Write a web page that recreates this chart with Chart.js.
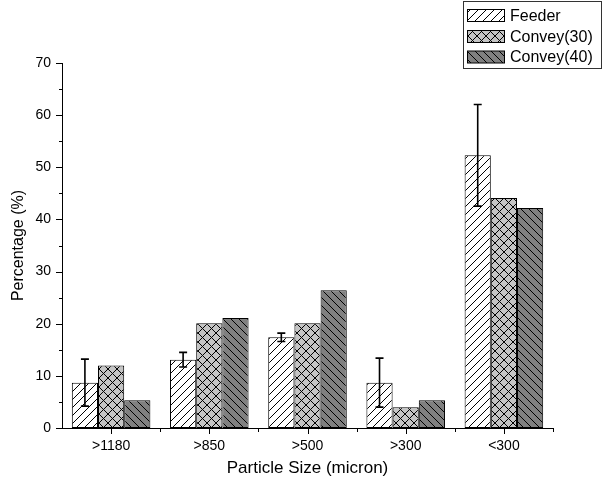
<!DOCTYPE html>
<html>
<head>
<meta charset="utf-8">
<script src="https://cdn.jsdelivr.net/npm/chart.js@4"></script>
<style>
html,body{margin:0;padding:0;background:#fff;}
#c{display:block;}
</style>
</head>
<body>
<canvas id="c" width="604" height="486"></canvas>
<script>
const categories = ['>1180', '>850', '>500', '>300', '<300'];
const feeder = [8.7, 13.1, 17.4, 8.7, 52.3];
const feederErr = [4.5, 1.4, 0.8, 4.7, 9.75];
const convey30 = [12.0, 20.1, 20.1, 4.0, 44.1];
const convey40 = [5.3, 21.1, 26.4, 5.3, 42.2];
const seriesLabels = ['Feeder', 'Convey(30)', 'Convey(40)'];
const yTicks = [0, 10, 20, 30, 40, 50, 60, 70];

const FONT = '"Liberation Sans", Arial, sans-serif';

function makePattern(bg, type, size) {
  const c = document.createElement('canvas');
  c.width = size; c.height = size;
  const g = c.getContext('2d');
  g.fillStyle = bg; g.fillRect(0, 0, size, size);
  g.strokeStyle = '#000'; g.lineWidth = 1;
  g.beginPath();
  if (type.indexOf('/') >= 0) {
    g.moveTo(-1, size + 1); g.lineTo(size + 1, -1);
    g.moveTo(-2, 2); g.lineTo(2, -2);
    g.moveTo(size - 2, size + 2); g.lineTo(size + 2, size - 2);
  }
  if (type.indexOf('\\') >= 0) {
    g.moveTo(-1, -1); g.lineTo(size + 1, size + 1);
    g.moveTo(size - 2, -2); g.lineTo(size + 2, 2);
    g.moveTo(-2, size - 2); g.lineTo(2, size + 2);
  }
  g.stroke();
  return g.createPattern(c, 'repeat');
}

const patFeeder = makePattern('#ffffff', '/', 8);
const patC30 = makePattern('#c4c4c4', '/\\', 9);
const patC40 = makePattern('#808080', '\\', 8);
const patterns = [patFeeder, patC30, patC40];

const errorBarPlugin = {
  id: 'errorBars',
  afterDatasetsDraw(chart) {
    const ctx = chart.ctx;
    const meta = chart.getDatasetMeta(0);
    const y = chart.scales.y;
    ctx.save();
    ctx.strokeStyle = '#000';
    ctx.lineWidth = 1.6;
    meta.data.forEach((bar, i) => {
      const v = feeder[i], e = feederErr[i];
      const yt = y.getPixelForValue(v + e);
      const yb = y.getPixelForValue(v - e);
      const x = bar.x;
      ctx.beginPath();
      ctx.moveTo(x, yt); ctx.lineTo(x, yb);
      ctx.moveTo(x - 4, yt); ctx.lineTo(x + 4, yt);
      ctx.moveTo(x - 4, yb); ctx.lineTo(x + 4, yb);
      ctx.stroke();
    });
    ctx.restore();
  }
};

const ticksPlugin = {
  id: 'customTicks',
  afterDraw(chart) {
    const ctx = chart.ctx;
    const xs = chart.scales.x, ys = chart.scales.y;
    const area = chart.chartArea;
    ctx.save();
    ctx.strokeStyle = '#000';
    ctx.lineWidth = 1;
    ctx.beginPath();
    // y ticks
    for (let v = ys.min; v <= ys.max; v += 5) {
      const py = Math.round(ys.getPixelForValue(v)) + 0.5;
      const len = (v % 10 === 0) ? 6 : 3;
      ctx.moveTo(area.left - len, py); ctx.lineTo(area.left, py);
    }
    // x ticks
    const n = categories.length;
    for (let i = 0; i < n; i++) {
      const px = Math.round(xs.getPixelForValue(i)) + 0.5;
      ctx.moveTo(px, area.bottom); ctx.lineTo(px, area.bottom + 6);
    }
    const step = (area.right - area.left) / n;
    for (let i = 1; i <= n; i++) {
      const px = Math.round(area.left + step * i) + 0.5;
      ctx.moveTo(px, area.bottom); ctx.lineTo(px, area.bottom + 4);
    }
    ctx.stroke();
    ctx.restore();
  }
};

const legendPlugin = {
  id: 'boxLegend',
  afterDraw(chart) {
    const ctx = chart.ctx;
    ctx.save();
    ctx.strokeStyle = '#333';
    ctx.lineWidth = 1;
    ctx.fillStyle = '#fff';
    ctx.fillRect(463.5, 1.5, 138, 67);
    ctx.strokeRect(463.5, 1.5, 138, 67);
    const rows = [15.5, 36.5, 57];
    chart.data.datasets.forEach((ds, i) => {
      const cy = rows[i];
      ctx.fillStyle = ds.backgroundColor;
      ctx.fillRect(467.5, cy - 6, 37, 12);
      ctx.strokeStyle = '#000';
      ctx.strokeRect(467.5, cy - 6, 37, 12);
      ctx.fillStyle = '#000';
      ctx.font = '16px ' + FONT;
      ctx.textBaseline = 'middle';
      ctx.textAlign = 'left';
      ctx.fillText(ds.label, 510, cy + 1);
    });
    ctx.restore();
  }
};

new Chart(document.getElementById('c'), {
  type: 'bar',
  data: {
    labels: categories,
    datasets: [
      { label: seriesLabels[0], data: feeder, backgroundColor: patterns[0] },
      { label: seriesLabels[1], data: convey30, backgroundColor: patterns[1] },
      { label: seriesLabels[2], data: convey40, backgroundColor: patterns[2] }
    ].map(d => Object.assign(d, {
      borderColor: '#000', borderWidth: 1, borderSkipped: false,
      barPercentage: 1.0, categoryPercentage: 0.8
    }))
  },
  options: {
    responsive: false,
    animation: false,
    devicePixelRatio: 1,
    layout: { padding: { top: 63, right: 51, left: 0, bottom: 0 } },
    plugins: { legend: { display: false }, tooltip: { enabled: false } },
    scales: {
      x: {
        type: 'category',
        offset: true,
        grid: { display: false, drawTicks: false },
        border: { display: true, color: '#000', width: 1 },
        ticks: { color: '#000', font: { size: 14, family: FONT }, padding: 10, maxRotation: 0, autoSkip: false },
        title: { display: true, text: 'Particle Size (micron)', color: '#000', font: { size: 17, family: FONT }, padding: { top: 0, bottom: 7 } },
        afterFit(s) { s.height = 58; }
      },
      y: {
        min: 0, max: 70,
        grid: { display: false, drawTicks: false },
        border: { display: true, color: '#000', width: 1 },
        ticks: { color: '#000', font: { size: 14, family: FONT }, padding: 11, stepSize: 10,
                 callback: (v) => yTicks.includes(v) ? String(v) : '' },
        title: { display: true, text: 'Percentage (%)', color: '#000', font: { size: 16, family: FONT }, padding: { top: 9, bottom: 0 } },
        afterFit(s) { s.width = 62; }
      }
    }
  },
  plugins: [errorBarPlugin, ticksPlugin, legendPlugin]
});
</script>
</body>
</html>
